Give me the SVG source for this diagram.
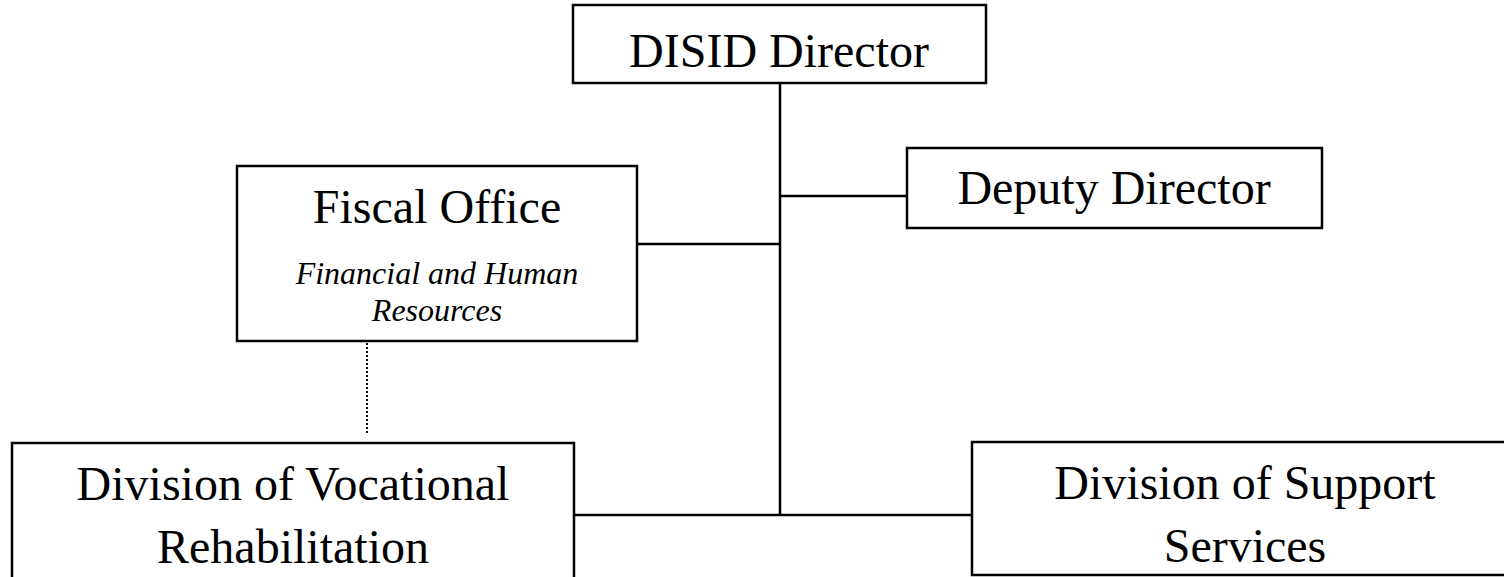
<svg xmlns="http://www.w3.org/2000/svg" width="1504" height="577" viewBox="0 0 1504 577">
<style>
.box{fill:#fff;stroke:#000;stroke-width:2.5}
.t{font-family:"Liberation Serif","Times New Roman",serif;font-size:48px;fill:#000;text-anchor:middle}
.s{font-family:"Liberation Serif","Times New Roman",serif;font-size:32px;font-style:italic;fill:#000;text-anchor:middle}
.ln{stroke:#000;stroke-width:2.5;fill:none}
.dot{stroke:#000;stroke-width:2;stroke-dasharray:2 2;fill:none}
</style>
<rect width="1504" height="577" fill="#fff"/>
<g id="connectors">
<line class="ln" x1="780" y1="83" x2="780" y2="515"/>
<line class="ln" x1="780" y1="196" x2="907" y2="196"/>
<line class="ln" x1="637" y1="244" x2="780" y2="244"/>
<line class="ln" x1="574" y1="515" x2="972" y2="515"/>
<line class="dot" x1="367" y1="343" x2="367" y2="434"/>
</g>
<g id="disid-director">
<rect class="box" x="573" y="5" width="413" height="78"/>
<text class="t" x="779" y="67">DISID Director</text>
</g>
<g id="deputy-director">
<rect class="box" x="907" y="148" width="415" height="80"/>
<text class="t" x="1114" y="204">Deputy Director</text>
</g>
<g id="fiscal-office">
<rect class="box" x="237" y="166" width="400" height="175"/>
<text class="t" x="437" y="223">Fiscal Office</text>
<text class="s" x="437" y="284">Financial and Human</text>
<text class="s" x="437" y="321">Resources</text>
</g>
<g id="vocational-rehabilitation">
<rect class="box" x="12" y="443" width="562" height="140"/>
<text class="t" x="293" y="500">Division of Vocational</text>
<text class="t" x="293" y="563">Rehabilitation</text>
</g>
<g id="support-services">
<rect class="box" x="972" y="442" width="560" height="133"/>
<text class="t" x="1245" y="499">Division of Support</text>
<text class="t" x="1245" y="562">Services</text>
</g>
</svg>
